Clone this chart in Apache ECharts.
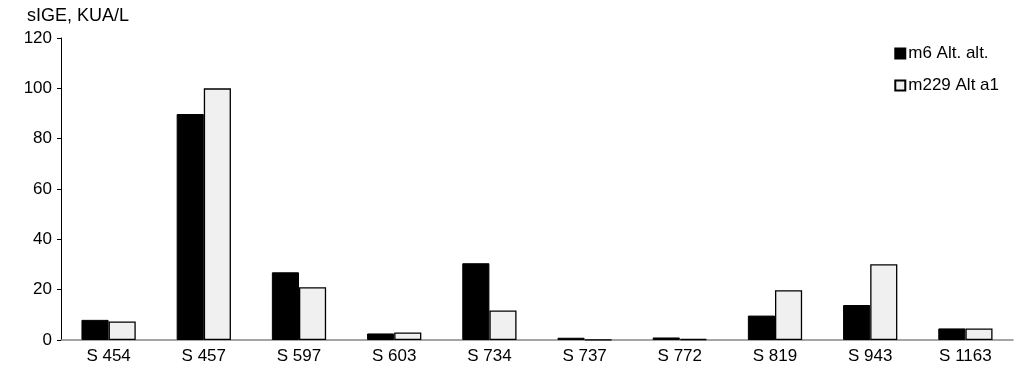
<!DOCTYPE html>
<html><head><meta charset="utf-8">
<script src="https://cdn.jsdelivr.net/npm/echarts@6/dist/echarts.min.js"></script>
<style>html,body{margin:0;padding:0;background:#fff}#c{width:1028px;height:383px}</style>
</head><body><div id="c"></div>
<script>
const categories = ['S 454','S 457','S 597','S 603','S 734','S 737','S 772','S 819','S 943','S 1163'];
const seriesNames = ['m6 Alt. alt.','m229 Alt a1'];
const m6 = [8.0, 89.8, 26.9, 2.6, 30.5, 0.9, 1.0, 9.7, 13.9, 4.6];
const m229 = [7.4, 100, 21.0, 3.0, 11.7, 0.1, 0.4, 19.8, 30.1, 4.6];
const yTicks = {min: 0, max: 120, interval: 20};
const yTitle = 'sIGE, KUA/L';

const font = '"Liberation Sans", Arial, sans-serif';
const chart = echarts.init(document.getElementById('c'), null, {renderer: 'canvas'});
chart.setOption({
  animation: false,
  textStyle: {fontFamily: font},
  title: {text: yTitle, left: 22, top: 2, textStyle: {fontFamily: font, fontSize: 18, fontWeight: 'normal', color: '#000'}},
  legend: {
    orient: 'vertical', right: 24, top: 40, itemGap: 15, itemWidth: 10, itemHeight: 10,
    icon: 'rect', selectedMode: false,
    textStyle: {fontFamily: font, fontSize: 17, color: '#000', padding: [0,0,0,-2]},
    data: seriesNames
  },
  grid: {left: 61, right: 15, top: 38, bottom: 43},
  xAxis: {
    type: 'category', data: categories,
    axisLine: {lineStyle: {color: '#888', width: 1.5}},
    axisTick: {show: false},
    axisLabel: {color: '#000', fontSize: 17, margin: 8, fontFamily: font}
  },
  yAxis: {
    type: 'value', min: yTicks.min, max: yTicks.max, interval: yTicks.interval,
    axisLine: {show: true, lineStyle: {color: '#000', width: 1}},
    axisTick: {show: true, length: 4, lineStyle: {color: '#000'}},
    splitLine: {show: false},
    axisLabel: {color: '#000', fontSize: 17, margin: 9, fontFamily: font}
  },
  series: [
    {name: seriesNames[0], type: 'bar', data: m6, barGap: '0%', barCategoryGap: '43%',
     itemStyle: {color: '#000', borderColor: '#000', borderWidth: 1}},
    {name: seriesNames[1], type: 'bar', data: m229, barGap: '0%', barCategoryGap: '43%',
     itemStyle: {color: '#f0f0f0', borderColor: '#000', borderWidth: 1.3}}
  ]
});
</script></body></html>
